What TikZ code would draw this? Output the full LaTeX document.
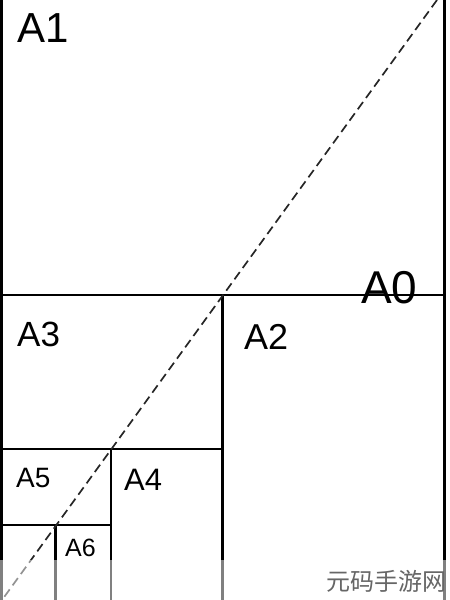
\documentclass[tikz,border=0pt]{standalone}
\usepackage{fontspec}
\setmainfont{Liberation Sans}
\newfontfamily\cjk{Noto Sans CJK SC}
\usetikzlibrary{calc}

\begin{document}
\begin{tikzpicture}[x=1pt,y=-1pt,
			sheet edge/.style={line width=2.3pt,black},
			fold line/.style={line width=1.7pt,black!85,dash pattern=on 9pt off 5pt},
			size label/.style={anchor=base west,inner sep=0pt,text=black},
			faded/.style={fill=white,fill opacity=0.5,draw=none}
			]
		\useasboundingbox (0,0) rectangle (450,600);
		\clip (0,0) rectangle (450,600);
		% corners of the sheet and of the cuts
		\coordinate (top left) at (1.5,0);
		\coordinate (top right) at (444.5,0);
		\coordinate (cut0 l) at (1.5,295);
		\coordinate (cut0 r) at (444.5,295);
		\coordinate (cut1 l) at (1.5,449);
		\coordinate (cut1 r) at (222.5,449);
		\coordinate (cut2 l) at (1.5,525);
		\coordinate (cut2 r) at (111,525);
		\coordinate (fold top) at (437,0);
		\coordinate (fold bottom) at (2,600);

		\draw [sheet edge] (top left) -- (top left |- 0,600);
		\draw [sheet edge] (top right) -- (top right |- 0,600);
		\draw [sheet edge] (cut0 l) -- (cut0 r);
		\draw [sheet edge] (cut1 r |- cut0 l) -- (cut1 r |- 0,600);
		\draw [sheet edge] (cut1 l) -- (cut1 r);
		\draw [sheet edge] (cut2 r |- cut1 l) -- (cut2 r |- 0,600);
		\draw [sheet edge] (cut2 l) -- (cut2 r);
		\draw [sheet edge] (55.5,525) -- (55.5,600);

		\draw [fold line] (fold top) -- (fold bottom);

		\node [size label,font=\fontsize{42}{42}\selectfont] (a1) at (17,42) {A1};
		\node [size label,font=\fontsize{46}{46}\selectfont] (a0) at (361,303) {A0};
		\node [size label,font=\fontsize{35}{35}\selectfont] (a3) at (17,346) {A3};
		\node [size label,font=\fontsize{36}{36}\selectfont] (a2) at (244,349) {A2};
		\node [size label,font=\fontsize{28}{28}\selectfont] (a5) at (16,487) {A5};
		\node [size label,font=\fontsize{31}{31}\selectfont] (a4) at (124,490) {A4};
		\node [size label,font=\fontsize{25}{25}\selectfont] (a6) at (65,556) {A6};

		\fill [faded] (0,560) rectangle (450,600);
		\node [inner sep=0pt,text=black!60,font=\cjk\fontsize{24}{24}\selectfont] (mark) at (386,581) {元码手游网};
		\end{tikzpicture}
\end{document}
